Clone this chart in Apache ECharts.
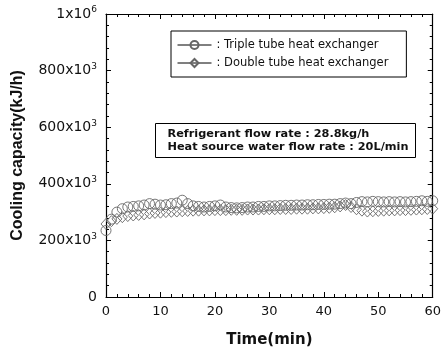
<!DOCTYPE html>
<html>
<head>
<meta charset="utf-8">
<script src="https://cdn.jsdelivr.net/npm/echarts@6/dist/echarts.min.js"></script>
<style>
  html, body { margin: 0; padding: 0; background: #fff; }
  #chart { width: 444px; height: 353px; }
</style>
</head>
<body>
<div id="chart"></div>
<script>
// Data (kJ/h), one point per minute
const times = [0,1,2,3,4,5,6,7,8,9,10,11,12,13,14,15,16,17,18,19,20,21,22,23,24,25,26,27,28,29,30,
  31,32,33,34,35,36,37,38,39,40,41,42,43,44,45,46,47,48,49,50,51,52,53,54,55,56,57,58,59,60];
const triple = [235,275,300,312,318,320,322,325,330,328,325,326,330,332,342,330,322,320,318,320,322,
  325,318,316,315,316,318,318,320,320,322,322,323,324,324,325,325,326,326,327,327,328,328,330,332,
  330,334,337,336,338,337,336,337,336,337,336,337,338,340,338,340];
const double = [258,268,276,282,286,288,290,292,295,297,298,300,301,302,303,304,305,305,306,306,307,
  307,307,308,308,308,309,309,309,310,310,310,311,311,311,312,312,312,313,313,314,315,317,320,325,
  318,310,305,302,303,304,305,306,306,307,307,308,309,310,311,312];
const seriesNames = ['Triple tube heat exchanger', 'Double tube heat exchanger'];
const noteLines = ['Refrigerant flow rate : 28.8kg/h', 'Heat source water flow rate : 20L/min'];

const font = '"DejaVu Sans", sans-serif';
const fontB = '"Liberation Sans", Arial, sans-serif';
const chart = echarts.init(document.getElementById('chart'));

function pairs(vals) {
    return times.map((t, i) => [t, vals[i] * 1000]);
}

function yLabel(v) {
    if (v === 0) return '0';
    if (v === 1000000) return '1x10{sup|6}';
    return (v / 1000) + 'x10{sup|3}';
}

const lineStyle = { color: '#000', width: 1.2 };
const noSplit = { show: false };

// frame axes with no labels: major ticks (len 5) or minor ticks (len 3), pointing inward
function frameX(pos, step, len, showLine) {
    return {
        type: 'value', position: pos, min: 0, max: 60, interval: step,
        axisLine: { show: showLine, onZero: false, lineStyle: lineStyle },
        axisTick: { show: true, inside: true, length: len, lineStyle: { color: '#000' } },
        axisLabel: { show: false }, splitLine: noSplit
    };
}
function frameY(pos, step, len, showLine) {
    return {
        type: 'value', position: pos, min: 0, max: 1000000, interval: step,
        axisLine: { show: showLine, onZero: false, lineStyle: lineStyle },
        axisTick: { show: true, inside: true, length: len, lineStyle: { color: '#000' } },
        axisLabel: { show: false }, splitLine: noSplit
    };
}

const markerStyle = { color: 'rgba(255,255,255,0)', borderColor: '#666', borderWidth: 0.9 };

chart.setOption({
    backgroundColor: '#fff',
    animation: false,
    grid: { left: 106, right: 11, top: 14, bottom: 51 },
    xAxis: [{
        type: 'value', min: 0, max: 60, interval: 10,
        name: 'Time(min)', nameLocation: 'middle', nameGap: 36,
        nameTextStyle: { fontFamily: font, fontSize: 15, fontWeight: 'bold', color: '#111' },
        axisLine: { onZero: false, lineStyle: lineStyle },
        axisTick: { inside: true, length: 5, lineStyle: { color: '#000' } },
        axisLabel: { fontFamily: font, fontSize: 13, color: '#111', margin: 8 },
        splitLine: noSplit
    },
        frameX('bottom', 2, 3, false),
        frameX('top', 10, 5, true),
        frameX('top', 2, 3, false)
    ],
    yAxis: [{
        type: 'value', min: 0, max: 1000000, interval: 200000,
        name: 'Cooling capacity(kJ/h)', nameLocation: 'middle', nameGap: 80,
        nameTextStyle: { fontFamily: fontB, fontSize: 16, fontWeight: 'bold', color: '#111' },
        axisLine: { show: true, onZero: false, lineStyle: lineStyle },
        axisTick: { show: true, inside: true, length: 5, lineStyle: { color: '#000' } },
        axisLabel: {
            fontFamily: font, fontSize: 14, color: '#111', margin: 9,
            formatter: yLabel,
            rich: { sup: { fontFamily: font, fontSize: 9, color: '#111', verticalAlign: 'top', padding: [0, 0, 8, 0] } }
        },
        splitLine: noSplit
    },
        frameY('left', 40000, 3, false),
        frameY('right', 200000, 5, true),
        frameY('right', 40000, 3, false)
    ],
    legend: {
        orient: 'vertical', left: 171, top: 31,
        data: seriesNames,
        formatter: n => ': ' + n,
        itemWidth: 34, itemHeight: 10, itemGap: 6,
        padding: [8, 18, 8, 6],
        borderColor: '#000', borderWidth: 1,
        textStyle: { fontFamily: font, fontSize: 11.5, color: '#111' },
        lineStyle: { color: '#000', width: 1, opacity: 1 }
    },
    graphic: [{
        type: 'group', left: 155, top: 123,
        children: [
            { type: 'rect', shape: { x: 0, y: 0, width: 260, height: 34 },
              style: { fill: '#fff', stroke: '#000', lineWidth: 1 } },
            { type: 'text', left: 12, top: 5,
              style: { text: noteLines[0], fontFamily: font, fontSize: 11.3, fontWeight: 'bold', fill: '#111' } },
            { type: 'text', left: 12, top: 18,
              style: { text: noteLines[1], fontFamily: font, fontSize: 11.3, fontWeight: 'bold', fill: '#111' } }
        ]
    }],
    series: [
        {
            name: seriesNames[0], type: 'line', data: pairs(triple),
            symbol: 'circle', symbolSize: 10, showAllSymbol: true,
            lineStyle: { opacity: 0 }, itemStyle: markerStyle, z: 3
        },
        {
            name: seriesNames[1], type: 'line', data: pairs(double),
            symbol: 'diamond', symbolSize: [10, 11], showAllSymbol: true,
            lineStyle: { opacity: 0 }, itemStyle: markerStyle, z: 2
        }
    ]
});
</script>
</body>
</html>
